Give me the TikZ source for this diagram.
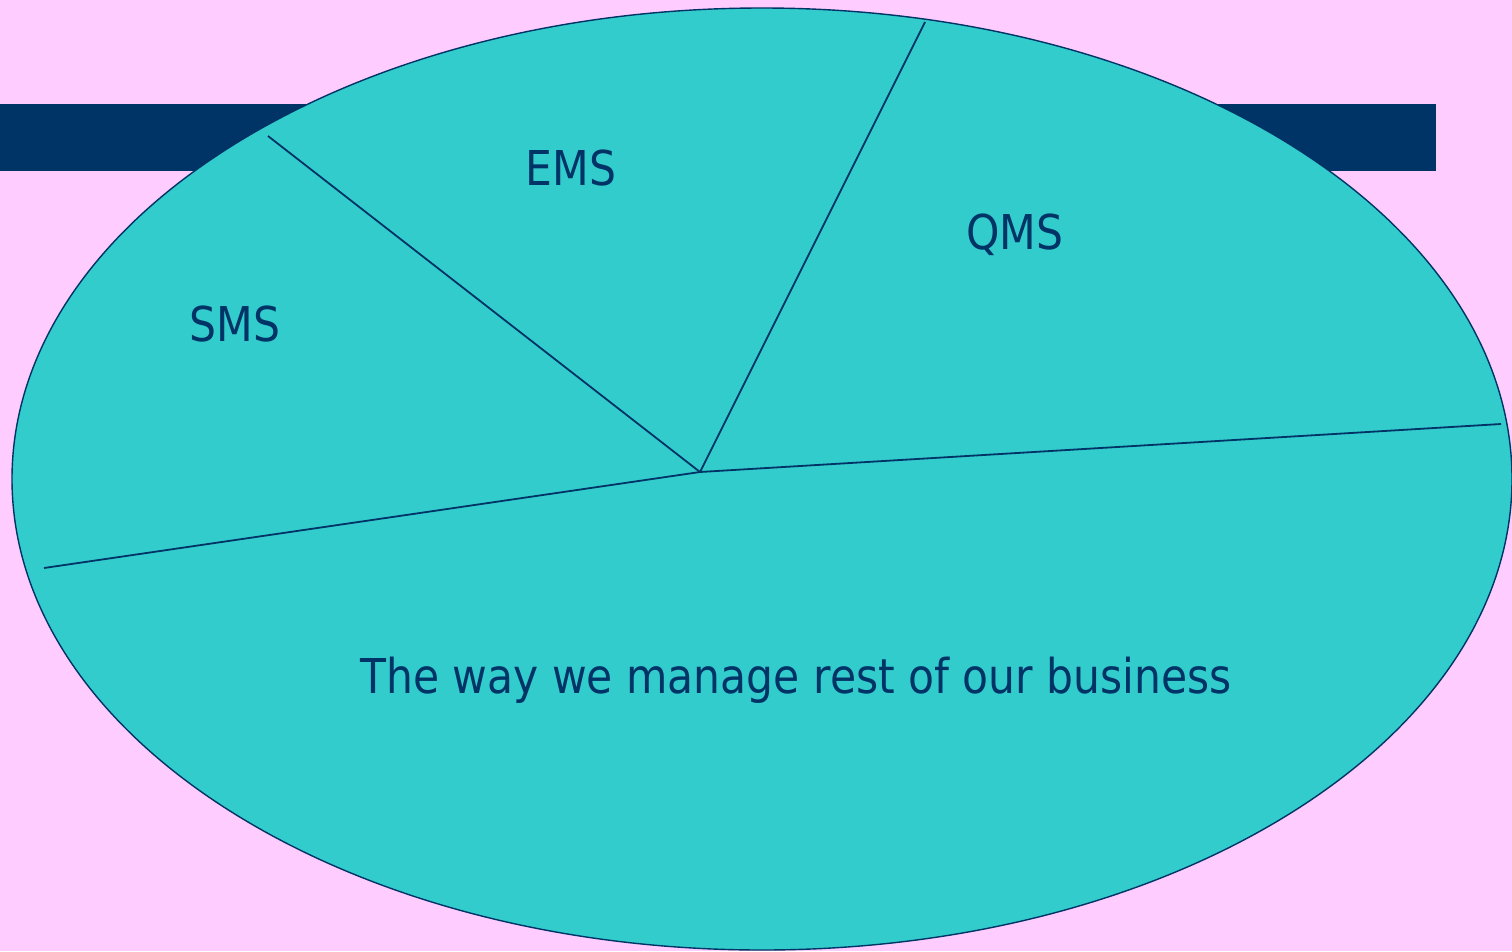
\documentclass[tikz,border=0pt]{standalone}
\usepackage{fontspec}
\setmainfont[FakeStretch=0.885]{DejaVu Sans}
\definecolor{bgpink}{HTML}{FFCCFF}
\definecolor{navy}{HTML}{003366}
\definecolor{teal}{HTML}{33CCCC}
\begin{document}
\begin{tikzpicture}[x=1pt,y=-1pt,
  lbl/.style={text=navy,font=\fontsize{48}{52}\selectfont,inner sep=0pt,anchor=base},
  divider/.style={draw=navy,line width=1.8pt}]
\fill[bgpink] (0,0) rectangle (1512,951);
\useasboundingbox (0,0) rectangle (1512,951);
\fill[navy] (0,104) rectangle (1436,171);
\path[fill=teal,draw=navy,line width=1.4pt] (762,479) ellipse [x radius=750, y radius=471];
\coordinate (c) at (700,472);
\coordinate (p1) at (268,136);
\coordinate (p2) at (925,22);
\coordinate (p3) at (1501,424);
\coordinate (p4) at (44,568);
\draw[divider] (c) -- (p1);
\draw[divider] (c) -- (p2);
\draw[divider] (c) -- (p3);
\draw[divider] (c) -- (p4);
\node[lbl] (ems) at (571,185) {EMS};
\node[lbl] (qms) at (1015,249) {QMS};
\node[lbl] (sms) at (235,341) {SMS};
\node[lbl] (rest) at (796,693) {The way we manage rest of our business};
\end{tikzpicture}
\end{document}
